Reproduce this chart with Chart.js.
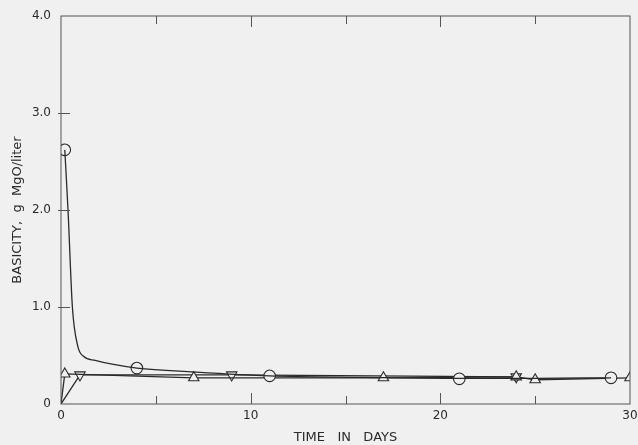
<!DOCTYPE html>
<html>
<head>
<meta charset="utf-8">
<script src="https://cdn.jsdelivr.net/npm/chart.js@4"></script>
<style>
  body { margin: 0; background: #f0f0f0; }
  #wrap { width: 638px; height: 445px; }
</style>
</head>
<body>
<div id="wrap"><canvas id="basicityChart" width="638" height="445"></canvas></div>
<script>
// 圆点曲线（从图上读出的曲线点）
const circleCurveDays = [0.2, 0.37, 0.6, 0.88, 1.2, 1.8, 2.7, 4, 7, 11, 16, 21, 25, 29];
const circleCurveVals = [2.62, 2.0, 1.0, 0.6, 0.49, 0.45, 0.41, 0.37, 0.33, 0.29, 0.275, 0.265, 0.265, 0.27];
// 圆点标记
const circleDays = [0.2, 4, 11, 21, 29];
const circleVals = [2.62, 0.37, 0.29, 0.26, 0.27];
// 正三角
const upDays = [0, 0.2, 7, 17, 24, 25, 30];
const upVals = [0, 0.31, 0.27, 0.27, 0.28, 0.25, 0.27];
// 倒三角
const downDays = [0, 1, 9, 24];
const downVals = [0, 0.30, 0.30, 0.28];
// 刻度
const xTicks = [0, 10, 20, 30];
const yTicks = [0, 1, 2, 3, 4];

const ink = '#2a2a2a';
const bg = '#f0f0f0';

function toPoints(xs, ys) {
    return xs.map((x, i) => ({ x: x, y: ys[i] }));
}

// 画框和向内的刻度
const framePlugin = {
    id: 'frame',
    beforeDraw(chart) {
        const ctx = chart.ctx;
        ctx.save();
        ctx.fillStyle = bg;
        ctx.fillRect(0, 0, chart.width, chart.height);
        ctx.restore();
    },
    afterDatasetsDraw(chart) {
        const ctx = chart.ctx;
        const a = chart.chartArea;
        const xs = chart.scales.x;
        const ys = chart.scales.y;
        ctx.save();
        ctx.strokeStyle = '#555';
        ctx.lineWidth = 1;
        ctx.strokeRect(a.left, a.top, a.right - a.left, a.bottom - a.top);
        ctx.beginPath();
        [5, 10, 15, 20, 25].forEach(d => {
            const px = Math.round(xs.getPixelForValue(d)) + 0.5;
            const len = (d % 10 === 0) ? 11 : 8;
            ctx.moveTo(px, a.bottom);
            ctx.lineTo(px, a.bottom - len);
            ctx.moveTo(px, a.top);
            ctx.lineTo(px, a.top + len);
        });
        [1, 2, 3].forEach(v => {
            const py = Math.round(ys.getPixelForValue(v)) + 0.5;
            ctx.moveTo(a.left - 3, py);
            ctx.lineTo(a.left + 9, py);
        });
        ctx.stroke();
        ctx.restore();
    }
};

const lineStyle = {
    borderColor: ink,
    borderWidth: 1.3,
    pointBackgroundColor: bg,
    pointBorderColor: ink,
    pointBorderWidth: 1.1,
    showLine: true,
    fill: false
};

new Chart(document.getElementById('basicityChart'), {
    type: 'scatter',
    data: {
        datasets: [
            Object.assign({}, lineStyle, {
                label: 'circle curve',
                data: toPoints(circleCurveDays, circleCurveVals),
                pointRadius: 0,
                cubicInterpolationMode: 'monotone'
            }),
            Object.assign({}, lineStyle, {
                label: 'circle',
                data: toPoints(circleDays, circleVals),
                showLine: false,
                pointStyle: 'circle',
                pointRadius: 5.8
            }),
            Object.assign({}, lineStyle, {
                label: 'up',
                data: toPoints(upDays, upVals),
                pointStyle: 'triangle',
                pointRadius: upDays.map(d => d === 0 ? 0 : 6)
            }),
            Object.assign({}, lineStyle, {
                label: 'down',
                data: toPoints(downDays, downVals),
                pointStyle: 'triangle',
                rotation: 180,
                pointRadius: downDays.map(d => d === 0 ? 0 : 6)
            })
        ]
    },
    options: {
        responsive: false,
        animation: false,
        layout: { padding: { top: 16, right: 8, left: 0, bottom: 0 } },
        plugins: {
            legend: { display: false },
            tooltip: { enabled: false }
        },
        scales: {
            x: {
                type: 'linear',
                min: 0,
                max: 30,
                afterFit: s => { s.height = 41; s.paddingRight = 0; s.paddingLeft = 0; },
                afterBuildTicks: s => { s.ticks = xTicks.map(v => ({ value: v })); },
                grid: { display: false, drawTicks: false },
                border: { display: false },
                ticks: {
                    color: ink,
                    padding: 5,
                    font: { family: 'DejaVu Sans', size: 12 },
                    callback: v => String(v)
                },
                title: {
                    display: true,
                    text: 'TIME   IN   DAYS',
                    color: ink,
                    padding: 0,
                    font: { family: 'DejaVu Sans', size: 13 }
                }
            },
            y: {
                type: 'linear',
                min: 0,
                max: 4,
                afterFit: s => { s.width = 61; s.paddingTop = 0; s.paddingBottom = 0; },
                afterBuildTicks: s => { s.ticks = yTicks.map(v => ({ value: v })); },
                grid: { display: false, drawTicks: false },
                border: { display: false },
                ticks: {
                    color: ink,
                    padding: 10,
                    font: { family: 'DejaVu Sans', size: 12 },
                    callback: v => v === 0 ? '0' : v.toFixed(1)
                },
                title: {
                    display: true,
                    text: 'BASICITY,  g  MgO/liter',
                    color: ink,
                    padding: { top: 10, bottom: 0 },
                    font: { family: 'DejaVu Sans', size: 13 }
                }
            }
        }
    },
    plugins: [framePlugin]
});
</script>
</body>
</html>
